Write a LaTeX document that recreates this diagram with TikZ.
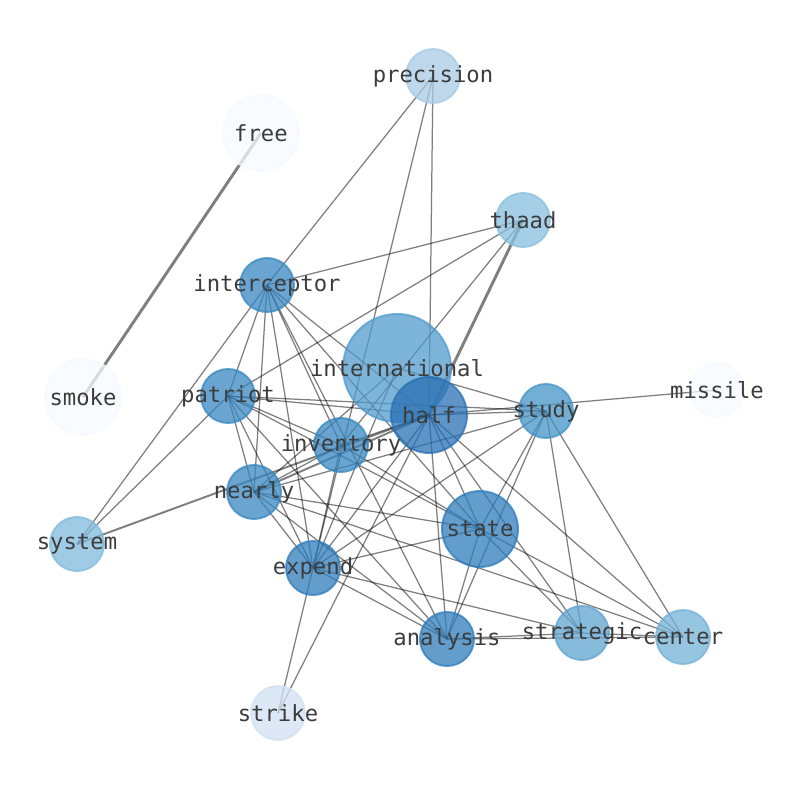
\documentclass[tikz,border=0pt]{standalone}
\usepackage{fontspec}
\newfontfamily\labelfont{DejaVu Sans Mono}
\usetikzlibrary{backgrounds}
\definecolor{labelgray}{RGB}{60,60,60}
\definecolor{cpale}{RGB}{245,250,255}
\definecolor{cstrike}{RGB}{208,224,242}
\definecolor{cprecision}{RGB}{168,202,228}
\definecolor{cthaad}{RGB}{135,191,222}
\definecolor{csystem}{RGB}{128,186,219}
\definecolor{ccenter}{RGB}{115,178,215}
\definecolor{cstrategic}{RGB}{95,164,208}
\definecolor{cinter}{RGB}{82,155,204}
\definecolor{cstudy}{RGB}{68,148,199}
\definecolor{cmid}{RGB}{55,135,192}
\definecolor{cdeep}{RGB}{46,124,187}
\definecolor{chalf}{RGB}{40,112,180}
\begin{document}
\begin{tikzpicture}[x=0.72pt,y=-0.72pt,
    word/.style={circle,inner sep=0pt,minimum size=38.9pt,line width=1.4pt,
      fill opacity=0.75,draw opacity=0.75},
    wide/.style={minimum size=54.7pt},
    huge/.style={minimum size=77.8pt},
    wordtext/.style={font=\labelfont\fontsize{16}{19}\selectfont,text=labelgray,
      text opacity=1,inner sep=0pt},
    link/.style={draw=black,opacity=0.5,line width=0.9pt},
    heavy/.style={link,line width=2.1pt},
    medium/.style={link,line width=1.4pt}]
  \useasboundingbox (0,0) rectangle (794,790);

  % word nodes
  \node[word,fill=cprecision,draw=cprecision,label={[wordtext]center:precision}] (precision) at (433,76) {};
  \node[word,wide,fill=cpale,draw=cpale,label={[wordtext]center:free}] (free) at (261,133) {};
  \node[word,fill=cthaad,draw=cthaad,label={[wordtext]center:thaad}] (thaad) at (523,220) {};
  \node[word,fill=cmid,draw=cmid,label={[wordtext]center:interceptor}] (interceptor) at (267,285) {};
  \node[word,huge,fill=cinter,draw=cinter,label={[wordtext]center:international}] (international) at (397,368) {};
  \node[word,wide,fill=cpale,draw=cpale,label={[wordtext]center:smoke}] (smoke) at (83,397) {};
  \node[word,fill=cpale,draw=cpale,label={[wordtext]center:missile}] (missile) at (717,390) {};
  \node[word,fill=cmid,draw=cmid,label={[wordtext]center:patriot}] (patriot) at (228,396) {};
  \node[word,wide,fill=chalf,draw=chalf,label={[wordtext]center:half}] (half) at (429,415) {};
  \node[word,fill=cstudy,draw=cstudy,label={[wordtext]center:study}] (study) at (546,411) {};
  \node[word,fill=cmid,draw=cmid,label={[wordtext]center:inventory}] (inventory) at (341,445) {};
  \node[word,fill=cmid,draw=cmid,label={[wordtext]center:nearly}] (nearly) at (254,492) {};
  \node[word,wide,fill=cdeep,draw=cdeep,label={[wordtext]center:state}] (state) at (480,529) {};
  \node[word,fill=csystem,draw=csystem,label={[wordtext]center:system}] (system) at (77,544) {};
  \node[word,fill=cdeep,draw=cdeep,label={[wordtext]center:expend}] (expend) at (313,568) {};
  \node[word,fill=cdeep,draw=cdeep,label={[wordtext]center:analysis}] (analysis) at (447,639) {};
  \node[word,fill=cstrategic,draw=cstrategic,label={[wordtext]center:strategic}] (strategic) at (582,633) {};
  \node[word,fill=ccenter,draw=ccenter,label={[wordtext]center:center}] (center) at (683,637) {};
  \node[word,fill=cstrike,draw=cstrike,label={[wordtext]center:strike}] (strike) at (278,713) {};

  % links, under the word nodes
  \begin{scope}[on background layer]
    \draw[heavy] (free.center) -- (smoke.center);
    \draw[heavy] (thaad.center) -- (half.center);
    \draw[medium] (system.center) -- (half.center);
    \draw[medium] (nearly.center) -- (half.center);
    \draw[link] (precision.center) -- (interceptor.center);
    \draw[link] (precision.center) -- (half.center);
    \draw[link] (precision.center) -- (expend.center);
    \draw[link] (thaad.center) -- (interceptor.center);
    \draw[link] (thaad.center) -- (patriot.center);
    \draw[link] (thaad.center) -- (inventory.center);
    \draw[link] (interceptor.center) -- (system.center);
    \draw[link] (interceptor.center) -- (patriot.center);
    \draw[link] (interceptor.center) -- (nearly.center);
    \draw[link] (interceptor.center) -- (expend.center);
    \draw[link] (interceptor.center) -- (inventory.center);
    \draw[link] (interceptor.center) -- (half.center);
    \draw[link] (interceptor.center) -- (state.center);
    \draw[link] (interceptor.center) -- (analysis.center);
    \draw[link] (international.center) -- (study.center);
    \draw[link] (international.center) -- (nearly.center);
    \draw[link] (international.center) -- (expend.center);
    \draw[link] (missile.center) -- (half.center);
    \draw[link] (patriot.center) -- (system.center);
    \draw[link] (patriot.center) -- (half.center);
    \draw[link] (patriot.center) -- (study.center);
    \draw[link] (patriot.center) -- (inventory.center);
    \draw[link] (patriot.center) -- (nearly.center);
    \draw[link] (patriot.center) -- (expend.center);
    \draw[link] (patriot.center) -- (analysis.center);
    \draw[link] (patriot.center) -- (state.center);
    \draw[link] (half.center) -- (study.center);
    \draw[link] (half.center) -- (inventory.center);
    \draw[link] (half.center) -- (expend.center);
    \draw[link] (half.center) -- (state.center);
    \draw[link] (half.center) -- (analysis.center);
    \draw[link] (half.center) -- (strategic.center);
    \draw[link] (half.center) -- (center.center);
    \draw[link] (half.center) -- (strike.center);
    \draw[link] (study.center) -- (nearly.center);
    \draw[link] (study.center) -- (expend.center);
    \draw[link] (study.center) -- (state.center);
    \draw[link] (study.center) -- (analysis.center);
    \draw[link] (study.center) -- (strategic.center);
    \draw[link] (study.center) -- (center.center);
    \draw[link] (inventory.center) -- (nearly.center);
    \draw[link] (inventory.center) -- (expend.center);
    \draw[link] (inventory.center) -- (state.center);
    \draw[link] (nearly.center) -- (state.center);
    \draw[link] (nearly.center) -- (expend.center);
    \draw[link] (nearly.center) -- (analysis.center);
    \draw[link] (nearly.center) -- (center.center);
    \draw[link] (expend.center) -- (state.center);
    \draw[link] (expend.center) -- (analysis.center);
    \draw[link] (expend.center) -- (strategic.center);
    \draw[link] (expend.center) -- (strike.center);
    \draw[link] (state.center) -- (analysis.center);
    \draw[link] (state.center) -- (strategic.center);
    \draw[link] (state.center) -- (center.center);
    \draw[link] (analysis.center) -- (strategic.center);
    \draw[link] (analysis.center) -- (center.center);
    \draw[link] (strategic.center) -- (center.center);
  \end{scope}
\end{tikzpicture}
\end{document}
